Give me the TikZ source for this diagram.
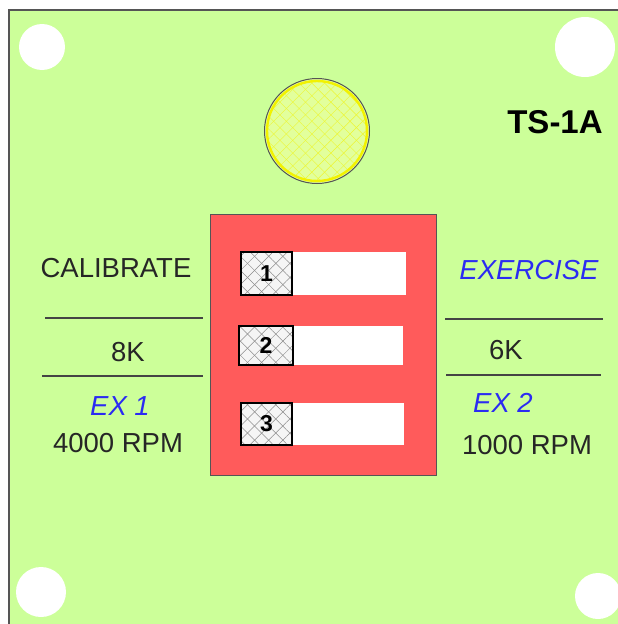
\documentclass[tikz,border=0pt]{standalone}
\usepackage{fontspec}
\setmainfont{Liberation Sans}
\usepackage{tikz}
\usetikzlibrary{patterns.meta}
\definecolor{panel}{HTML}{CCFF99}
\definecolor{plate}{HTML}{FF5B5B}
\definecolor{rim}{HTML}{555555}
\definecolor{exblue}{HTML}{2B2BF2}
\definecolor{lamp}{HTML}{E2FF9C}
\definecolor{lampring}{HTML}{F2F200}

\begin{document}
\begin{tikzpicture}[x=1pt,y=-1pt,
  lbl/.style={font=\fontsize{27.5}{31}\selectfont,text=black!85,inner sep=0pt},
  exlbl/.style={font=\fontsize{27.5}{31}\selectfont\itshape,text=exblue,inner sep=0pt},
  num/.style={font=\fontsize{23}{26}\selectfont\bfseries,inner sep=0pt},
  rule/.style={draw=rim!80!black,line width=1.6pt}]
\useasboundingbox (0,0) rectangle (618,624);
\clip (0,0) rectangle (618,624);
% panel and mounting holes
\fill[white] (0,0) rectangle (618,624);
\fill[panel,draw=rim,line width=1.6pt] (9,10) rectangle (630,640);
\fill[white] (42,47) circle (23); \fill[white] (585,47) circle (30);
\fill[white] (41,592) circle (25); \fill[white] (598,596) circle (23);
% lamp
\fill[lamp] (317,131) circle (52);
\fill[pattern={Lines[angle=45,distance=9pt,line width=0.4pt]},pattern color=lampring!70!lamp] (317,131) circle (51);
\fill[pattern={Lines[angle=-45,distance=9pt,line width=0.4pt]},pattern color=lampring!70!lamp] (317,131) circle (51);
\draw[lampring,line width=2.4pt] (317,131) circle (50);
\draw[rim,line width=1pt] (317,131) circle (52.5);
\node[font=\fontsize{33}{36}\selectfont\bfseries,inner sep=0pt] (tag) at (555,122) {TS-1A};
% switch block
\fill[plate,draw=rim,line width=1pt] (210,214) rectangle (436,475);
\fill[white] (292,252) rectangle (406,295);
\fill[white] (293,326) rectangle (403,365);
\fill[white] (292,403) rectangle (404,445);
\fill[black!4] (241,252) rectangle (292,295);
\fill[black!4] (239,326) rectangle (293,365);
\fill[black!4] (241,403) rectangle (292,445);
\fill[pattern={Lines[angle=45,distance=10pt,line width=0.5pt]},pattern color=black!45] (241,252) rectangle (292,295) (239,326) rectangle (293,365) (241,403) rectangle (292,445);
\fill[pattern={Lines[angle=-45,distance=10pt,line width=0.5pt]},pattern color=black!45] (241,252) rectangle (292,295) (239,326) rectangle (293,365) (241,403) rectangle (292,445);
\draw[black,line width=1.3pt] (241,252) rectangle (292,295);
\draw[black,line width=1.3pt] (239,326) rectangle (293,365);
\draw[black,line width=1.3pt] (241,403) rectangle (292,445);
\node[num] (sw1) at (266.5,273.5) {1};
\node[num] (sw2) at (266,345.5) {2};
\node[num] (sw3) at (266.5,424) {3};
% left side
\node[lbl] (cal) at (116,268) {CALIBRATE};
\draw[rule] (45,318) -- (203,318);
\node[lbl] (eightk) at (128,352) {8K};
\draw[rule] (42,376) -- (203,376);
\node[exlbl] (exone) at (120,406) {EX 1};
\node[lbl] (rpmone) at (118,443) {4000 RPM};
% right side
\node[exlbl] (exer) at (529,270) {EXERCISE};
\draw[rule] (445,319) -- (603,319);
\node[lbl] (sixk) at (506,350) {6K};
\draw[rule] (446,375) -- (601,375);
\node[exlbl] (extwo) at (503,403) {EX 2};
\node[lbl] (rpmtwo) at (527,445) {1000 RPM};
\end{tikzpicture}
\end{document}
